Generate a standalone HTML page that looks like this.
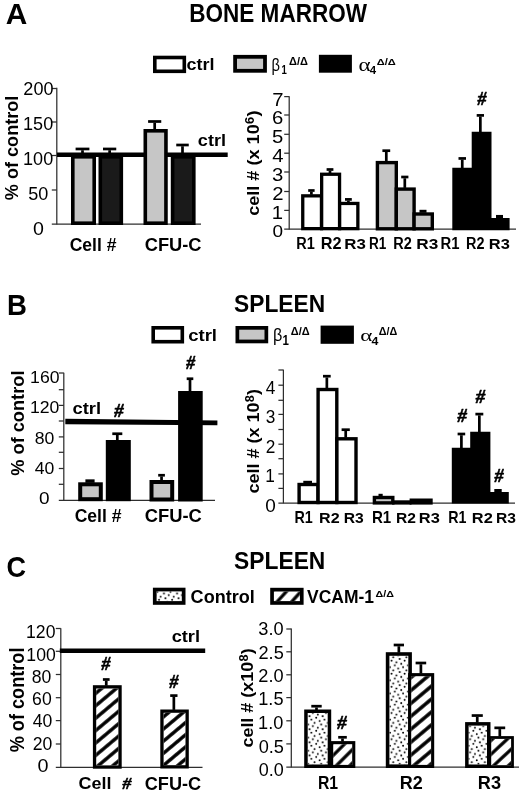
<!DOCTYPE html>
<html><head><meta charset="utf-8"><title>Figure</title>
<style>html,body{margin:0;padding:0;background:#fff;width:520px;height:794px;overflow:hidden}svg{display:block;filter:blur(0.35px)}</style>
</head><body>
<svg width="520" height="794" viewBox="0 0 520 794">
<defs><pattern id="dots" patternUnits="userSpaceOnUse" x="307.60" y="714.20" width="13.10" height="13.10"><circle cx="2.00" cy="2.00" r="0.95" fill="#000"/><circle cx="3.80" cy="5.40" r="0.95" fill="#000"/><circle cx="8.60" cy="3.60" r="0.95" fill="#000"/><circle cx="7.00" cy="8.70" r="0.95" fill="#000"/><circle cx="12.00" cy="6.70" r="0.95" fill="#000"/><circle cx="5.30" cy="12.00" r="0.95" fill="#000"/><circle cx="0.50" cy="10.30" r="0.95" fill="#000"/><circle cx="13.60" cy="10.30" r="0.95" fill="#000"/><circle cx="10.20" cy="0.40" r="0.95" fill="#000"/><circle cx="10.20" cy="13.50" r="0.95" fill="#000"/></pattern>
<pattern id="h1" patternUnits="userSpaceOnUse" width="60" height="10.800" patternTransform="translate(277.30,601.60) rotate(-48.00)"><rect x="0" y="0" width="60" height="1.600" fill="#000"/><rect x="0" y="9.200" width="60" height="1.600" fill="#000"/></pattern>
<pattern id="h2" patternUnits="userSpaceOnUse" width="60" height="9.500" patternTransform="translate(95.90,742.80) rotate(-40.00)"><rect x="0" y="0" width="60" height="1.700" fill="#000"/><rect x="0" y="7.800" width="60" height="1.700" fill="#000"/></pattern>
<pattern id="h3" patternUnits="userSpaceOnUse" width="60" height="9.300" patternTransform="translate(163.40,741.20) rotate(-40.00)"><rect x="0" y="0" width="60" height="1.700" fill="#000"/><rect x="0" y="7.600" width="60" height="1.700" fill="#000"/></pattern>
<pattern id="h4" patternUnits="userSpaceOnUse" width="60" height="9.500" patternTransform="translate(333.10,755.50) rotate(-45.00)"><rect x="0" y="0" width="60" height="1.600" fill="#000"/><rect x="0" y="7.900" width="60" height="1.600" fill="#000"/></pattern>
<pattern id="h5" patternUnits="userSpaceOnUse" width="60" height="9.900" patternTransform="translate(411.70,741.50) rotate(-40.00)"><rect x="0" y="0" width="60" height="1.750" fill="#000"/><rect x="0" y="8.150" width="60" height="1.750" fill="#000"/></pattern>
<pattern id="h6" patternUnits="userSpaceOnUse" width="60" height="10.100" patternTransform="translate(491.00,754.30) rotate(-43.00)"><rect x="0" y="0" width="60" height="1.600" fill="#000"/><rect x="0" y="8.500" width="60" height="1.600" fill="#000"/></pattern></defs>
<rect width="520" height="794" fill="#fff"/>
<rect x="153.00" y="55.70" width="33.10" height="17.40" fill="#000"/>
<rect x="156.60" y="59.30" width="25.90" height="10.20" fill="#fff"/>
<rect x="233.20" y="54.90" width="33.70" height="17.80" fill="#000"/>
<rect x="237.00" y="58.70" width="26.10" height="10.20" fill="#c6c6c6"/>
<rect x="318.90" y="54.80" width="33.00" height="17.90" fill="#000"/>
<line x1="56.80" y1="87.70" x2="56.80" y2="224.50" stroke="#2e2e2e" stroke-width="1.25"/>
<line x1="51.80" y1="88.50" x2="56.80" y2="88.50" stroke="#2e2e2e" stroke-width="1.25"/>
<line x1="51.80" y1="122.00" x2="56.80" y2="122.00" stroke="#2e2e2e" stroke-width="1.25"/>
<line x1="51.80" y1="155.50" x2="56.80" y2="155.50" stroke="#2e2e2e" stroke-width="1.25"/>
<line x1="51.80" y1="190.00" x2="56.80" y2="190.00" stroke="#2e2e2e" stroke-width="1.25"/>
<line x1="51.80" y1="224.20" x2="201.00" y2="224.20" stroke="#2e2e2e" stroke-width="1.25"/>
<rect x="57.00" y="152.50" width="170.70" height="4.50" fill="#000"/>
<rect x="71.00" y="155.00" width="25.00" height="70.00" fill="#000"/>
<rect x="74.60" y="158.60" width="17.80" height="62.80" fill="#c6c6c6"/>
<rect x="98.50" y="155.00" width="24.60" height="70.00" fill="#000"/>
<rect x="102.10" y="158.60" width="17.40" height="62.80" fill="#1a1a1a"/>
<rect x="143.50" y="129.00" width="24.25" height="96.00" fill="#000"/>
<rect x="147.10" y="132.60" width="17.05" height="88.80" fill="#c6c6c6"/>
<rect x="170.80" y="155.00" width="24.80" height="70.00" fill="#000"/>
<rect x="174.40" y="158.60" width="17.60" height="62.80" fill="#1a1a1a"/>
<rect x="75.60" y="147.62" width="13.80" height="2.70" fill="#000"/>
<rect x="81.15" y="150.22" width="2.70" height="5.28" fill="#000"/>
<rect x="103.00" y="147.62" width="13.25" height="2.70" fill="#000"/>
<rect x="108.28" y="150.22" width="2.70" height="5.28" fill="#000"/>
<rect x="148.10" y="120.15" width="13.15" height="2.70" fill="#000"/>
<rect x="153.33" y="122.75" width="2.70" height="6.75" fill="#000"/>
<rect x="176.25" y="143.65" width="12.50" height="2.70" fill="#000"/>
<rect x="181.15" y="146.25" width="2.70" height="9.25" fill="#000"/>
<line x1="289.20" y1="96.20" x2="289.20" y2="229.50" stroke="#2e2e2e" stroke-width="1.25"/>
<line x1="284.20" y1="96.60" x2="289.20" y2="96.60" stroke="#2e2e2e" stroke-width="1.25"/>
<line x1="284.20" y1="115.00" x2="289.20" y2="115.00" stroke="#2e2e2e" stroke-width="1.25"/>
<line x1="284.20" y1="134.30" x2="289.20" y2="134.30" stroke="#2e2e2e" stroke-width="1.25"/>
<line x1="284.20" y1="153.20" x2="289.20" y2="153.20" stroke="#2e2e2e" stroke-width="1.25"/>
<line x1="284.20" y1="172.00" x2="289.20" y2="172.00" stroke="#2e2e2e" stroke-width="1.25"/>
<line x1="284.20" y1="191.50" x2="289.20" y2="191.50" stroke="#2e2e2e" stroke-width="1.25"/>
<line x1="284.20" y1="210.40" x2="289.20" y2="210.40" stroke="#2e2e2e" stroke-width="1.25"/>
<line x1="284.20" y1="229.20" x2="516.00" y2="229.20" stroke="#2e2e2e" stroke-width="1.25"/>
<rect x="301.10" y="194.20" width="22.00" height="36.10" fill="#000"/>
<rect x="304.40" y="197.50" width="15.40" height="29.50" fill="#fff"/>
<rect x="320.00" y="172.60" width="21.20" height="57.70" fill="#000"/>
<rect x="323.30" y="175.90" width="14.60" height="51.10" fill="#fff"/>
<rect x="338.00" y="201.80" width="21.50" height="28.50" fill="#000"/>
<rect x="341.30" y="205.10" width="14.90" height="21.90" fill="#fff"/>
<rect x="375.70" y="160.90" width="22.30" height="69.60" fill="#000"/>
<rect x="379.10" y="164.30" width="15.50" height="62.80" fill="#c6c6c6"/>
<rect x="394.60" y="187.40" width="21.20" height="43.10" fill="#000"/>
<rect x="398.00" y="190.80" width="14.40" height="36.30" fill="#c6c6c6"/>
<rect x="412.40" y="212.30" width="21.60" height="18.20" fill="#000"/>
<rect x="415.80" y="215.70" width="14.80" height="11.40" fill="#c6c6c6"/>
<polygon points="452.30,230.30 452.30,167.80 471.70,167.80 471.70,131.70 491.50,131.70 491.50,218.00 509.60,218.00 509.60,230.30" fill="#000"/>
<rect x="308.20" y="189.15" width="6.40" height="2.70" fill="#000"/>
<rect x="310.05" y="191.75" width="2.70" height="2.95" fill="#000"/>
<rect x="326.60" y="168.15" width="6.80" height="2.70" fill="#000"/>
<rect x="328.65" y="170.75" width="2.70" height="2.35" fill="#000"/>
<rect x="345.00" y="198.05" width="6.80" height="2.70" fill="#000"/>
<rect x="347.05" y="200.65" width="2.70" height="1.65" fill="#000"/>
<rect x="382.40" y="149.35" width="7.80" height="2.70" fill="#000"/>
<rect x="384.95" y="151.95" width="2.70" height="9.45" fill="#000"/>
<rect x="401.20" y="175.65" width="7.20" height="2.70" fill="#000"/>
<rect x="403.45" y="178.25" width="2.70" height="9.65" fill="#000"/>
<rect x="419.50" y="209.80" width="7.00" height="3.00" fill="#000"/>
<rect x="458.50" y="157.10" width="7.50" height="2.70" fill="#000"/>
<rect x="460.90" y="159.70" width="2.70" height="8.60" fill="#000"/>
<rect x="476.70" y="114.05" width="7.30" height="2.70" fill="#000"/>
<rect x="479.00" y="116.65" width="2.70" height="15.55" fill="#000"/>
<rect x="496.00" y="214.95" width="7.00" height="3.55" fill="#000"/>
<rect x="151.40" y="326.00" width="32.70" height="17.50" fill="#000"/>
<rect x="155.00" y="329.60" width="25.50" height="10.30" fill="#fff"/>
<rect x="235.50" y="326.00" width="32.70" height="17.30" fill="#000"/>
<rect x="239.20" y="329.70" width="25.30" height="9.90" fill="#c6c6c6"/>
<rect x="320.60" y="325.60" width="33.30" height="18.20" fill="#000"/>
<line x1="63.80" y1="372.70" x2="63.80" y2="500.60" stroke="#2e2e2e" stroke-width="1.25"/>
<line x1="58.80" y1="373.00" x2="63.80" y2="373.00" stroke="#2e2e2e" stroke-width="1.25"/>
<line x1="58.80" y1="389.70" x2="63.80" y2="389.70" stroke="#2e2e2e" stroke-width="1.25"/>
<line x1="58.80" y1="405.40" x2="63.80" y2="405.40" stroke="#2e2e2e" stroke-width="1.25"/>
<line x1="58.80" y1="421.00" x2="63.80" y2="421.00" stroke="#2e2e2e" stroke-width="1.25"/>
<line x1="58.80" y1="436.90" x2="63.80" y2="436.90" stroke="#2e2e2e" stroke-width="1.25"/>
<line x1="58.80" y1="452.30" x2="63.80" y2="452.30" stroke="#2e2e2e" stroke-width="1.25"/>
<line x1="58.80" y1="468.50" x2="63.80" y2="468.50" stroke="#2e2e2e" stroke-width="1.25"/>
<line x1="58.80" y1="484.30" x2="63.80" y2="484.30" stroke="#2e2e2e" stroke-width="1.25"/>
<line x1="58.80" y1="500.30" x2="215.00" y2="500.30" stroke="#2e2e2e" stroke-width="1.25"/>
<rect x="78.20" y="482.30" width="24.60" height="18.90" fill="#000"/>
<rect x="82.20" y="486.30" width="16.60" height="10.90" fill="#c6c6c6"/>
<rect x="105.80" y="440.00" width="25.00" height="61.20" fill="#000"/>
<rect x="149.50" y="480.00" width="24.70" height="21.50" fill="#000"/>
<rect x="153.50" y="484.00" width="16.70" height="13.50" fill="#c6c6c6"/>
<rect x="178.10" y="391.00" width="24.60" height="110.50" fill="#000"/>
<rect x="85.40" y="479.35" width="9.20" height="3.45" fill="#000"/>
<rect x="112.30" y="432.40" width="10.00" height="2.70" fill="#000"/>
<rect x="115.95" y="435.00" width="2.70" height="5.50" fill="#000"/>
<rect x="158.20" y="473.90" width="6.70" height="2.70" fill="#000"/>
<rect x="160.20" y="476.50" width="2.70" height="4.00" fill="#000"/>
<rect x="186.70" y="377.40" width="6.60" height="2.70" fill="#000"/>
<rect x="188.65" y="380.00" width="2.70" height="11.50" fill="#000"/>
<polygon points="65.3,418.8 217.4,420.6 217.4,425.3 65.3,424.3" fill="#000"/>
<line x1="283.40" y1="369.70" x2="283.40" y2="503.30" stroke="#2e2e2e" stroke-width="1.25"/>
<line x1="278.40" y1="370.00" x2="283.40" y2="370.00" stroke="#2e2e2e" stroke-width="1.25"/>
<line x1="278.40" y1="385.20" x2="283.40" y2="385.20" stroke="#2e2e2e" stroke-width="1.25"/>
<line x1="278.40" y1="400.30" x2="283.40" y2="400.30" stroke="#2e2e2e" stroke-width="1.25"/>
<line x1="278.40" y1="414.40" x2="283.40" y2="414.40" stroke="#2e2e2e" stroke-width="1.25"/>
<line x1="278.40" y1="429.50" x2="283.40" y2="429.50" stroke="#2e2e2e" stroke-width="1.25"/>
<line x1="278.40" y1="444.20" x2="283.40" y2="444.20" stroke="#2e2e2e" stroke-width="1.25"/>
<line x1="278.40" y1="458.70" x2="283.40" y2="458.70" stroke="#2e2e2e" stroke-width="1.25"/>
<line x1="278.40" y1="473.90" x2="283.40" y2="473.90" stroke="#2e2e2e" stroke-width="1.25"/>
<line x1="278.40" y1="488.40" x2="283.40" y2="488.40" stroke="#2e2e2e" stroke-width="1.25"/>
<line x1="278.40" y1="503.00" x2="515.00" y2="503.00" stroke="#2e2e2e" stroke-width="1.25"/>
<rect x="297.40" y="482.80" width="22.30" height="21.40" fill="#000"/>
<rect x="300.80" y="486.20" width="15.50" height="14.60" fill="#fff"/>
<rect x="316.40" y="387.80" width="22.10" height="116.40" fill="#000"/>
<rect x="319.80" y="391.20" width="15.30" height="109.60" fill="#fff"/>
<rect x="335.20" y="437.10" width="22.50" height="67.10" fill="#000"/>
<rect x="338.60" y="440.50" width="15.70" height="60.30" fill="#fff"/>
<rect x="372.70" y="495.80" width="21.80" height="8.80" fill="#000"/>
<rect x="376.10" y="499.20" width="15.00" height="2.00" fill="#c6c6c6"/>
<rect x="392.00" y="500.30" width="19.50" height="4.30" fill="#000"/>
<rect x="395.40" y="503.70" width="12.70" height="-2.50" fill="#c6c6c6"/>
<rect x="409.60" y="498.50" width="23.10" height="6.10" fill="#000"/>
<rect x="413.00" y="501.90" width="16.30" height="-0.70" fill="#c6c6c6"/>
<polygon points="451.80,503.60 451.80,447.70 470.20,447.70 470.20,431.80 490.40,431.80 490.40,492.10 508.80,492.10 508.80,503.60" fill="#000"/>
<rect x="303.30" y="480.80" width="8.70" height="2.50" fill="#000"/>
<rect x="323.00" y="374.85" width="7.70" height="2.70" fill="#000"/>
<rect x="325.50" y="377.45" width="2.70" height="10.85" fill="#000"/>
<rect x="341.60" y="428.35" width="8.20" height="2.70" fill="#000"/>
<rect x="344.35" y="430.95" width="2.70" height="6.65" fill="#000"/>
<rect x="378.50" y="493.80" width="4.20" height="2.50" fill="#000"/>
<rect x="457.60" y="432.65" width="7.60" height="2.70" fill="#000"/>
<rect x="460.05" y="435.25" width="2.70" height="12.95" fill="#000"/>
<rect x="475.40" y="412.75" width="7.90" height="2.70" fill="#000"/>
<rect x="478.00" y="415.35" width="2.70" height="16.95" fill="#000"/>
<rect x="494.30" y="489.00" width="7.40" height="3.60" fill="#000"/>
<rect x="152.90" y="587.70" width="32.60" height="17.10" fill="#000"/>
<rect x="156.60" y="591.40" width="25.20" height="9.70" fill="#fff"/>
<rect x="156.60" y="591.40" width="25.20" height="9.70" fill="url(#dots)"/>
<rect x="270.20" y="587.80" width="33.40" height="17.00" fill="#000"/>
<rect x="273.90" y="591.50" width="26.00" height="9.60" fill="#fff"/>
<rect x="273.90" y="591.50" width="26.00" height="9.60" fill="url(#h1)"/>
<line x1="60.80" y1="628.20" x2="60.80" y2="767.60" stroke="#2e2e2e" stroke-width="1.25"/>
<line x1="55.80" y1="628.50" x2="60.80" y2="628.50" stroke="#2e2e2e" stroke-width="1.25"/>
<line x1="55.80" y1="651.30" x2="60.80" y2="651.30" stroke="#2e2e2e" stroke-width="1.25"/>
<line x1="55.80" y1="674.50" x2="60.80" y2="674.50" stroke="#2e2e2e" stroke-width="1.25"/>
<line x1="55.80" y1="697.70" x2="60.80" y2="697.70" stroke="#2e2e2e" stroke-width="1.25"/>
<line x1="55.80" y1="720.60" x2="60.80" y2="720.60" stroke="#2e2e2e" stroke-width="1.25"/>
<line x1="55.80" y1="744.00" x2="60.80" y2="744.00" stroke="#2e2e2e" stroke-width="1.25"/>
<line x1="55.80" y1="767.30" x2="202.50" y2="767.30" stroke="#2e2e2e" stroke-width="1.25"/>
<rect x="59.80" y="648.50" width="145.40" height="4.50" fill="#000"/>
<rect x="92.90" y="685.20" width="28.80" height="83.50" fill="#000"/>
<rect x="96.20" y="688.50" width="22.20" height="76.90" fill="#fff"/>
<rect x="96.20" y="688.50" width="22.20" height="76.90" fill="url(#h2)"/>
<rect x="160.30" y="709.50" width="28.50" height="59.00" fill="#000"/>
<rect x="163.60" y="712.80" width="21.90" height="52.40" fill="#fff"/>
<rect x="163.60" y="712.80" width="21.90" height="52.40" fill="url(#h3)"/>
<rect x="102.90" y="678.15" width="6.70" height="2.70" fill="#000"/>
<rect x="104.90" y="680.75" width="2.70" height="4.95" fill="#000"/>
<rect x="170.20" y="694.25" width="7.30" height="2.70" fill="#000"/>
<rect x="172.50" y="696.85" width="2.70" height="13.05" fill="#000"/>
<line x1="291.30" y1="628.40" x2="291.30" y2="767.50" stroke="#2e2e2e" stroke-width="1.25"/>
<line x1="286.30" y1="629.00" x2="291.30" y2="629.00" stroke="#2e2e2e" stroke-width="1.25"/>
<line x1="286.30" y1="651.80" x2="291.30" y2="651.80" stroke="#2e2e2e" stroke-width="1.25"/>
<line x1="286.30" y1="674.80" x2="291.30" y2="674.80" stroke="#2e2e2e" stroke-width="1.25"/>
<line x1="286.30" y1="697.60" x2="291.30" y2="697.60" stroke="#2e2e2e" stroke-width="1.25"/>
<line x1="286.30" y1="720.80" x2="291.30" y2="720.80" stroke="#2e2e2e" stroke-width="1.25"/>
<line x1="286.30" y1="743.90" x2="291.30" y2="743.90" stroke="#2e2e2e" stroke-width="1.25"/>
<line x1="286.30" y1="767.20" x2="519.00" y2="767.20" stroke="#2e2e2e" stroke-width="1.25"/>
<rect x="304.20" y="709.50" width="27.00" height="58.50" fill="#000"/>
<rect x="307.70" y="713.00" width="20.00" height="51.50" fill="#fff"/>
<rect x="307.70" y="713.00" width="20.00" height="51.50" fill="url(#dots)"/>
<rect x="330.10" y="741.10" width="25.20" height="26.90" fill="#000"/>
<rect x="333.20" y="744.20" width="19.00" height="20.70" fill="#fff"/>
<rect x="333.20" y="744.20" width="19.00" height="20.70" fill="url(#h4)"/>
<rect x="385.80" y="652.20" width="26.10" height="115.80" fill="#000"/>
<rect x="389.40" y="655.80" width="18.90" height="108.60" fill="#fff"/>
<rect x="389.40" y="655.80" width="18.90" height="108.60" fill="url(#dots)"/>
<rect x="408.10" y="673.10" width="26.10" height="94.90" fill="#000"/>
<rect x="411.20" y="676.20" width="19.90" height="88.70" fill="#fff"/>
<rect x="411.20" y="676.20" width="19.90" height="88.70" fill="url(#h5)"/>
<rect x="465.10" y="722.10" width="25.40" height="45.90" fill="#000"/>
<rect x="468.60" y="725.60" width="18.40" height="38.90" fill="#fff"/>
<rect x="468.60" y="725.60" width="18.40" height="38.90" fill="url(#dots)"/>
<rect x="488.40" y="736.10" width="25.50" height="31.90" fill="#000"/>
<rect x="491.20" y="738.90" width="19.90" height="26.30" fill="#fff"/>
<rect x="491.20" y="738.90" width="19.90" height="26.30" fill="url(#h6)"/>
<rect x="311.30" y="704.85" width="10.40" height="2.70" fill="#000"/>
<rect x="315.15" y="707.45" width="2.70" height="2.55" fill="#000"/>
<rect x="338.20" y="735.95" width="8.60" height="2.70" fill="#000"/>
<rect x="341.15" y="738.55" width="2.70" height="3.05" fill="#000"/>
<rect x="393.70" y="643.65" width="10.30" height="2.70" fill="#000"/>
<rect x="397.50" y="646.25" width="2.70" height="6.45" fill="#000"/>
<rect x="415.60" y="661.65" width="10.60" height="2.70" fill="#000"/>
<rect x="419.55" y="664.25" width="2.70" height="9.35" fill="#000"/>
<rect x="471.70" y="714.20" width="11.10" height="2.70" fill="#000"/>
<rect x="475.90" y="716.80" width="2.70" height="5.80" fill="#000"/>
<rect x="494.40" y="726.50" width="10.80" height="2.70" fill="#000"/>
<rect x="498.45" y="729.10" width="2.70" height="7.50" fill="#000"/>
<g transform="translate(5.871,24.200) scale(1.1056,1.0703)"><text x="0.000" y="0.000" font-family='"Liberation Sans", sans-serif' font-weight="bold" font-size="27.000">A</text></g>
<g transform="translate(189.263,22.015) scale(1.0244,1.1419)"><text x="0.000" y="0.000" font-family='"Liberation Sans", sans-serif' font-weight="bold" font-size="22.000">BONE MARROW</text></g>
<g transform="translate(186.607,70.261) scale(1.0571,0.9569)"><text x="0.000" y="0.000" font-family='"Liberation Sans", sans-serif' font-weight="bold" font-size="17.000">ctrl</text></g>
<g transform="translate(271.619,70.616) scale(0.8645,1.0813)"><text x="0.000" y="0.000" font-family='"Liberation Sans", sans-serif' font-weight="normal" font-size="17.000">β</text></g>
<g transform="translate(281.400,74.200) scale(0.8000,1.0545)"><text x="0.000" y="0.000" font-family='"Liberation Sans", sans-serif' font-weight="bold" font-size="12.000">1</text></g>
<g transform="translate(289.100,64.870) scale(1.0000,0.9212)"><text x="0.000" y="0.000" font-family='"Liberation Sans", sans-serif' font-weight="bold" font-size="11.000">Δ/Δ</text></g>
<g transform="translate(358.536,70.737) scale(1.2848,1.0514)"><text x="0.000" y="0.000" font-family='"Liberation Serif", serif' font-weight="normal" font-size="18.000">α</text></g>
<g transform="translate(369.862,74.400) scale(0.9538,0.9455)"><text x="0.000" y="0.000" font-family='"Liberation Sans", sans-serif' font-weight="bold" font-size="12.000">4</text></g>
<g transform="translate(376.694,65.115) scale(1.0111,0.7394)"><text x="0.000" y="0.000" font-family='"Liberation Sans", sans-serif' font-weight="bold" font-size="11.000">Δ/Δ</text></g>
<g transform="translate(18.484,200.233) rotate(-90) scale(1.0653,1.0627)"><text x="0.000" y="0.000" font-family='"Liberation Sans", sans-serif' font-weight="bold" font-size="17.000">% of control</text></g>
<g transform="translate(23.353,95.226) scale(1.1287,1.0979)"><text x="0.000" y="0.000" font-family='"Liberation Sans", sans-serif' font-weight="normal" font-size="16.000">200</text></g>
<g transform="translate(23.071,130.088) scale(1.1287,1.0979)"><text x="0.000" y="0.000" font-family='"Liberation Sans", sans-serif' font-weight="normal" font-size="16.000">150</text></g>
<g transform="translate(23.071,164.951) scale(1.1287,1.0979)"><text x="0.000" y="0.000" font-family='"Liberation Sans", sans-serif' font-weight="normal" font-size="16.000">100</text></g>
<g transform="translate(28.292,199.813) scale(1.1287,1.0979)"><text x="0.000" y="0.000" font-family='"Liberation Sans", sans-serif' font-weight="normal" font-size="16.000">50</text></g>
<g transform="translate(33.087,234.628) scale(1.2258,1.0894)"><text x="0.000" y="0.000" font-family='"Liberation Sans", sans-serif' font-weight="normal" font-size="16.000">0</text></g>
<g transform="translate(197.834,146.031) scale(1.1312,1.0750)"><text x="0.000" y="0.000" font-family='"Liberation Sans", sans-serif' font-weight="bold" font-size="16.000">ctrl</text></g>
<g transform="translate(69.677,250.719) scale(1.0970,1.1250)"><text x="0.000" y="0.000" font-family='"Liberation Sans", sans-serif' font-weight="bold" font-size="16.000">Cell #</text></g>
<g transform="translate(144.743,250.715) scale(1.1423,1.1404)"><text x="0.000" y="0.000" font-family='"Liberation Sans", sans-serif' font-weight="bold" font-size="16.000">CFU-C</text></g>
<g transform="translate(272.148,105.600) scale(1.2690,1.1289)"><text x="0.000" y="0.000" font-family='"Liberation Sans", sans-serif' font-weight="normal" font-size="16.000">7</text></g>
<g transform="translate(271.990,124.457) scale(1.2690,1.1289)"><text x="0.000" y="0.000" font-family='"Liberation Sans", sans-serif' font-weight="normal" font-size="16.000">6</text></g>
<g transform="translate(271.990,143.173) scale(1.2690,1.1289)"><text x="0.000" y="0.000" font-family='"Liberation Sans", sans-serif' font-weight="normal" font-size="16.000">5</text></g>
<g transform="translate(272.148,162.171) scale(1.2690,1.1289)"><text x="0.000" y="0.000" font-family='"Liberation Sans", sans-serif' font-weight="normal" font-size="16.000">4</text></g>
<g transform="translate(271.990,181.029) scale(1.2690,1.1289)"><text x="0.000" y="0.000" font-family='"Liberation Sans", sans-serif' font-weight="normal" font-size="16.000">3</text></g>
<g transform="translate(272.148,200.027) scale(1.2690,1.1289)"><text x="0.000" y="0.000" font-family='"Liberation Sans", sans-serif' font-weight="normal" font-size="16.000">2</text></g>
<g transform="translate(271.672,218.743) scale(1.2690,1.1289)"><text x="0.000" y="0.000" font-family='"Liberation Sans", sans-serif' font-weight="normal" font-size="16.000">1</text></g>
<g transform="translate(272.506,237.330) scale(1.1871,1.0809)"><text x="0.000" y="0.000" font-family='"Liberation Sans", sans-serif' font-weight="normal" font-size="16.000">0</text></g>
<g transform="translate(259.006,215.866) rotate(-90) scale(1.1324,1.0750)"><text x="0.000" y="0.000" font-family='"Liberation Sans", sans-serif' font-weight="bold" font-size="16.000">cell # (x 10</text><text x="81.200" y="-5.000" font-family='"Liberation Sans", sans-serif' font-weight="bold" font-size="11.300">6</text><text x="87.700" y="0.000" font-family='"Liberation Sans", sans-serif' font-weight="bold" font-size="16.000">)</text></g>
<g transform="translate(477.446,105.045) scale(0.9846,1.0204)"><text x="0.000" y="0.000" font-family='"Liberation Serif", serif' font-weight="bold" font-style="italic" stroke="#000" stroke-width="0.550" stroke-linejoin="round" font-size="18.000">#</text></g>
<g transform="translate(296.264,248.900) scale(1.0364,1.1684)"><text x="0.000" y="0.000" font-family='"Liberation Sans", sans-serif' font-weight="bold" font-size="14.000">R1</text></g>
<g transform="translate(320.836,248.900) scale(1.1636,1.1385)"><text x="0.000" y="0.000" font-family='"Liberation Sans", sans-serif' font-weight="bold" font-size="14.000">R2</text></g>
<g transform="translate(344.294,248.623) scale(1.2061,1.1100)"><text x="0.000" y="0.000" font-family='"Liberation Sans", sans-serif' font-weight="bold" font-size="14.000">R3</text></g>
<g transform="translate(369.030,248.900) scale(0.9697,1.1684)"><text x="0.000" y="0.000" font-family='"Liberation Sans", sans-serif' font-weight="bold" font-size="14.000">R1</text></g>
<g transform="translate(393.364,248.900) scale(1.0364,1.1385)"><text x="0.000" y="0.000" font-family='"Liberation Sans", sans-serif' font-weight="bold" font-size="14.000">R2</text></g>
<g transform="translate(416.270,248.623) scale(1.2303,1.1100)"><text x="0.000" y="0.000" font-family='"Liberation Sans", sans-serif' font-weight="bold" font-size="14.000">R3</text></g>
<g transform="translate(440.439,248.900) scale(1.0606,1.1684)"><text x="0.000" y="0.000" font-family='"Liberation Sans", sans-serif' font-weight="bold" font-size="14.000">R1</text></g>
<g transform="translate(465.970,248.900) scale(1.0303,1.1385)"><text x="0.000" y="0.000" font-family='"Liberation Sans", sans-serif' font-weight="bold" font-size="14.000">R2</text></g>
<g transform="translate(488.824,248.623) scale(1.1758,1.1100)"><text x="0.000" y="0.000" font-family='"Liberation Sans", sans-serif' font-weight="bold" font-size="14.000">R3</text></g>
<g transform="translate(6.963,314.600) scale(1.0212,1.0757)"><text x="0.000" y="0.000" font-family='"Liberation Sans", sans-serif' font-weight="bold" font-size="27.000">B</text></g>
<g transform="translate(234.124,312.226) scale(1.0344,1.0968)"><text x="0.000" y="0.000" font-family='"Liberation Sans", sans-serif' font-weight="bold" font-size="22.000">SPLEEN</text></g>
<g transform="translate(188.183,340.755) scale(1.0898,0.9804)"><text x="0.000" y="0.000" font-family='"Liberation Sans", sans-serif' font-weight="bold" font-size="17.000">ctrl</text></g>
<g transform="translate(272.906,340.950) scale(0.9548,1.1000)"><text x="0.000" y="0.000" font-family='"Liberation Sans", sans-serif' font-weight="normal" font-size="17.000">β</text></g>
<g transform="translate(282.483,344.700) scale(0.9565,1.1636)"><text x="0.000" y="0.000" font-family='"Liberation Sans", sans-serif' font-weight="bold" font-size="12.000">1</text></g>
<g transform="translate(290.800,335.245) scale(1.0000,1.0182)"><text x="0.000" y="0.000" font-family='"Liberation Sans", sans-serif' font-weight="bold" font-size="11.000">Δ/Δ</text></g>
<g transform="translate(360.236,340.774) scale(1.2848,0.9029)"><text x="0.000" y="0.000" font-family='"Liberation Serif", serif' font-weight="normal" font-size="18.000">α</text></g>
<g transform="translate(371.542,344.600) scale(1.0308,0.9212)"><text x="0.000" y="0.000" font-family='"Liberation Sans", sans-serif' font-weight="bold" font-size="12.000">4</text></g>
<g transform="translate(378.808,335.445) scale(0.9833,1.0182)"><text x="0.000" y="0.000" font-family='"Liberation Sans", sans-serif' font-weight="bold" font-size="11.000">Δ/Δ</text></g>
<g transform="translate(23.918,475.736) rotate(-90) scale(1.0715,1.1294)"><text x="0.000" y="0.000" font-family='"Liberation Sans", sans-serif' font-weight="bold" font-size="17.000">% of control</text></g>
<g transform="translate(30.121,383.230) scale(1.1030,1.0809)"><text x="0.000" y="0.000" font-family='"Liberation Sans", sans-serif' font-weight="normal" font-size="16.000">160</text></g>
<g transform="translate(29.884,413.480) scale(1.1030,1.0809)"><text x="0.000" y="0.000" font-family='"Liberation Sans", sans-serif' font-weight="normal" font-size="16.000">120</text></g>
<g transform="translate(34.748,443.730) scale(1.1030,1.0809)"><text x="0.000" y="0.000" font-family='"Liberation Sans", sans-serif' font-weight="normal" font-size="16.000">80</text></g>
<g transform="translate(34.786,473.980) scale(1.1030,1.0809)"><text x="0.000" y="0.000" font-family='"Liberation Sans", sans-serif' font-weight="normal" font-size="16.000">40</text></g>
<g transform="translate(39.006,504.230) scale(1.1871,1.0809)"><text x="0.000" y="0.000" font-family='"Liberation Sans", sans-serif' font-weight="normal" font-size="16.000">0</text></g>
<g transform="translate(72.426,413.533) scale(1.1484,1.0667)"><text x="0.000" y="0.000" font-family='"Liberation Sans", sans-serif' font-weight="bold" font-size="16.000">ctrl</text></g>
<g transform="translate(114.159,416.737) scale(1.0359,1.0531)"><text x="0.000" y="0.000" font-family='"Liberation Serif", serif' font-weight="bold" font-style="italic" stroke="#000" stroke-width="0.550" stroke-linejoin="round" font-size="18.000">#</text></g>
<g transform="translate(186.344,368.529) scale(0.9744,1.0857)"><text x="0.000" y="0.000" font-family='"Liberation Serif", serif' font-weight="bold" font-style="italic" stroke="#000" stroke-width="0.550" stroke-linejoin="round" font-size="18.000">#</text></g>
<g transform="translate(74.677,522.223) scale(1.0970,1.1083)"><text x="0.000" y="0.000" font-family='"Liberation Sans", sans-serif' font-weight="bold" font-size="16.000">Cell #</text></g>
<g transform="translate(144.739,522.218) scale(1.1474,1.1277)"><text x="0.000" y="0.000" font-family='"Liberation Sans", sans-serif' font-weight="bold" font-size="16.000">CFU-C</text></g>
<g transform="translate(265.830,393.800) scale(1.0788,1.1111)"><text x="0.000" y="0.000" font-family='"Liberation Sans", sans-serif' font-weight="normal" font-size="16.000">4</text></g>
<g transform="translate(265.658,423.288) scale(1.0788,1.1111)"><text x="0.000" y="0.000" font-family='"Liberation Sans", sans-serif' font-weight="normal" font-size="16.000">3</text></g>
<g transform="translate(265.755,452.914) scale(1.0788,1.1111)"><text x="0.000" y="0.000" font-family='"Liberation Sans", sans-serif' font-weight="normal" font-size="16.000">2</text></g>
<g transform="translate(265.313,482.262) scale(1.0788,1.1111)"><text x="0.000" y="0.000" font-family='"Liberation Sans", sans-serif' font-weight="normal" font-size="16.000">1</text></g>
<g transform="translate(265.206,511.723) scale(1.1871,1.1064)"><text x="0.000" y="0.000" font-family='"Liberation Sans", sans-serif' font-weight="normal" font-size="16.000">0</text></g>
<g transform="translate(259.006,493.562) rotate(-90) scale(1.1248,1.0750)"><text x="0.000" y="0.000" font-family='"Liberation Sans", sans-serif' font-weight="bold" font-size="16.000">cell # (x 10</text><text x="81.200" y="-5.000" font-family='"Liberation Sans", sans-serif' font-weight="bold" font-size="11.300">8</text><text x="87.700" y="0.000" font-family='"Liberation Sans", sans-serif' font-weight="bold" font-size="16.000">)</text></g>
<g transform="translate(457.459,421.931) scale(1.0359,1.0776)"><text x="0.000" y="0.000" font-family='"Liberation Serif", serif' font-weight="bold" font-style="italic" stroke="#000" stroke-width="0.550" stroke-linejoin="round" font-size="18.000">#</text></g>
<g transform="translate(475.659,402.624) scale(1.0359,1.1020)"><text x="0.000" y="0.000" font-family='"Liberation Serif", serif' font-weight="bold" font-style="italic" stroke="#000" stroke-width="0.550" stroke-linejoin="round" font-size="18.000">#</text></g>
<g transform="translate(494.451,481.635) scale(1.0051,1.0612)"><text x="0.000" y="0.000" font-family='"Liberation Serif", serif' font-weight="bold" font-style="italic" stroke="#000" stroke-width="0.550" stroke-linejoin="round" font-size="18.000">#</text></g>
<g transform="translate(294.476,523.200) scale(1.0242,1.1158)"><text x="0.000" y="0.000" font-family='"Liberation Sans", sans-serif' font-weight="bold" font-size="14.000">R1</text></g>
<g transform="translate(319.048,523.200) scale(1.1515,1.0872)"><text x="0.000" y="0.000" font-family='"Liberation Sans", sans-serif' font-weight="bold" font-size="14.000">R2</text></g>
<g transform="translate(343.679,522.935) scale(1.1212,1.0600)"><text x="0.000" y="0.000" font-family='"Liberation Sans", sans-serif' font-weight="bold" font-size="14.000">R3</text></g>
<g transform="translate(371.921,523.200) scale(1.0788,1.1158)"><text x="0.000" y="0.000" font-family='"Liberation Sans", sans-serif' font-weight="bold" font-size="14.000">R1</text></g>
<g transform="translate(395.885,523.200) scale(1.1152,1.0872)"><text x="0.000" y="0.000" font-family='"Liberation Sans", sans-serif' font-weight="bold" font-size="14.000">R2</text></g>
<g transform="translate(418.824,522.935) scale(1.1758,1.0600)"><text x="0.000" y="0.000" font-family='"Liberation Sans", sans-serif' font-weight="bold" font-size="14.000">R3</text></g>
<g transform="translate(448.182,523.200) scale(1.0182,1.1158)"><text x="0.000" y="0.000" font-family='"Liberation Sans", sans-serif' font-weight="bold" font-size="14.000">R1</text></g>
<g transform="translate(471.830,523.200) scale(1.1697,1.0872)"><text x="0.000" y="0.000" font-family='"Liberation Sans", sans-serif' font-weight="bold" font-size="14.000">R2</text></g>
<g transform="translate(495.885,522.935) scale(1.1152,1.0600)"><text x="0.000" y="0.000" font-family='"Liberation Sans", sans-serif' font-weight="bold" font-size="14.000">R3</text></g>
<g transform="translate(6.397,576.628) scale(1.0028,1.0895)"><text x="0.000" y="0.000" font-family='"Liberation Sans", sans-serif' font-weight="bold" font-size="27.000">C</text></g>
<g transform="translate(234.122,568.927) scale(1.0367,1.0903)"><text x="0.000" y="0.000" font-family='"Liberation Sans", sans-serif' font-weight="bold" font-size="22.000">SPLEEN</text></g>
<g transform="translate(190.603,602.935) scale(1.0632,1.0588)"><text x="0.000" y="0.000" font-family='"Liberation Sans", sans-serif' font-weight="bold" font-size="17.000">Control</text></g>
<g transform="translate(307.043,602.731) scale(1.0279,1.0776)"><text x="0.000" y="0.000" font-family='"Liberation Sans", sans-serif' font-weight="bold" font-size="17.000">VCAM-1</text></g>
<g transform="translate(375.514,596.782) scale(0.9722,0.8727)"><text x="0.000" y="0.000" font-family='"Liberation Sans", sans-serif' font-weight="bold" font-size="11.000">Δ/Δ</text></g>
<g transform="translate(24.212,752.334) rotate(-90) scale(1.0674,1.1529)"><text x="0.000" y="0.000" font-family='"Liberation Sans", sans-serif' font-weight="bold" font-size="17.000">% of control</text></g>
<g transform="translate(26.021,638.221) scale(1.1030,1.1149)"><text x="0.000" y="0.000" font-family='"Liberation Sans", sans-serif' font-weight="normal" font-size="16.000">120</text></g>
<g transform="translate(26.346,660.505) scale(1.1030,1.1149)"><text x="0.000" y="0.000" font-family='"Liberation Sans", sans-serif' font-weight="normal" font-size="16.000">100</text></g>
<g transform="translate(31.773,682.788) scale(1.1030,1.1149)"><text x="0.000" y="0.000" font-family='"Liberation Sans", sans-serif' font-weight="normal" font-size="16.000">80</text></g>
<g transform="translate(32.098,705.071) scale(1.1030,1.1149)"><text x="0.000" y="0.000" font-family='"Liberation Sans", sans-serif' font-weight="normal" font-size="16.000">60</text></g>
<g transform="translate(32.698,727.355) scale(1.1030,1.1149)"><text x="0.000" y="0.000" font-family='"Liberation Sans", sans-serif' font-weight="normal" font-size="16.000">40</text></g>
<g transform="translate(32.748,749.638) scale(1.1030,1.1149)"><text x="0.000" y="0.000" font-family='"Liberation Sans", sans-serif' font-weight="normal" font-size="16.000">20</text></g>
<g transform="translate(37.581,771.826) scale(1.2387,1.0979)"><text x="0.000" y="0.000" font-family='"Liberation Sans", sans-serif' font-weight="normal" font-size="16.000">0</text></g>
<g transform="translate(171.630,641.529) scale(1.1398,1.0833)"><text x="0.000" y="0.000" font-family='"Liberation Sans", sans-serif' font-weight="bold" font-size="16.000">ctrl</text></g>
<g transform="translate(101.446,670.037) scale(0.9846,1.0531)"><text x="0.000" y="0.000" font-family='"Liberation Serif", serif' font-weight="bold" font-style="italic" stroke="#000" stroke-width="0.550" stroke-linejoin="round" font-size="18.000">#</text></g>
<g transform="translate(169.446,688.037) scale(0.9846,1.0531)"><text x="0.000" y="0.000" font-family='"Liberation Serif", serif' font-weight="bold" font-style="italic" stroke="#000" stroke-width="0.550" stroke-linejoin="round" font-size="18.000">#</text></g>
<g transform="translate(78.559,789.484) scale(1.1218,1.0625)"><text x="0.000" y="0.000" font-family='"Liberation Sans", sans-serif' font-weight="bold" font-size="16.000">Cell</text></g>
<g transform="translate(122.497,789.257) scale(0.9897,0.9714)"><text x="0.000" y="0.000" font-family='"Liberation Serif", serif' font-weight="bold" font-style="italic" stroke="#000" stroke-width="0.550" stroke-linejoin="round" font-size="18.000">#</text></g>
<g transform="translate(144.749,789.821) scale(1.1340,1.1149)"><text x="0.000" y="0.000" font-family='"Liberation Sans", sans-serif' font-weight="bold" font-size="16.000">CFU-C</text></g>
<g transform="translate(258.346,635.121) scale(1.1381,1.1149)"><text x="0.000" y="0.000" font-family='"Liberation Sans", sans-serif' font-weight="normal" font-size="16.000">3.0</text></g>
<g transform="translate(258.489,658.613) scale(1.1381,1.1149)"><text x="0.000" y="0.000" font-family='"Liberation Sans", sans-serif' font-weight="normal" font-size="16.000">2.5</text></g>
<g transform="translate(258.346,682.105) scale(1.1381,1.1149)"><text x="0.000" y="0.000" font-family='"Liberation Sans", sans-serif' font-weight="normal" font-size="16.000">2.0</text></g>
<g transform="translate(258.204,705.457) scale(1.1381,1.1149)"><text x="0.000" y="0.000" font-family='"Liberation Sans", sans-serif' font-weight="normal" font-size="16.000">1.5</text></g>
<g transform="translate(258.062,729.088) scale(1.1381,1.1149)"><text x="0.000" y="0.000" font-family='"Liberation Sans", sans-serif' font-weight="normal" font-size="16.000">1.0</text></g>
<g transform="translate(258.631,752.580) scale(1.1381,1.1149)"><text x="0.000" y="0.000" font-family='"Liberation Sans", sans-serif' font-weight="normal" font-size="16.000">0.5</text></g>
<g transform="translate(258.638,776.215) scale(1.1247,1.1404)"><text x="0.000" y="0.000" font-family='"Liberation Sans", sans-serif' font-weight="normal" font-size="16.000">0.0</text></g>
<g transform="translate(253.347,747.560) rotate(-90) scale(1.1209,1.0625)"><text x="0.000" y="0.000" font-family='"Liberation Sans", sans-serif' font-weight="bold" font-size="16.000">cell # (x10</text><text x="76.800" y="-5.000" font-family='"Liberation Sans", sans-serif' font-weight="bold" font-size="11.300">8</text><text x="83.300" y="0.000" font-family='"Liberation Sans", sans-serif' font-weight="bold" font-size="16.000">)</text></g>
<g transform="translate(337.162,729.229) scale(1.0462,1.0857)"><text x="0.000" y="0.000" font-family='"Liberation Serif", serif' font-weight="bold" font-style="italic" stroke="#000" stroke-width="0.550" stroke-linejoin="round" font-size="18.000">#</text></g>
<g transform="translate(317.973,788.800) scale(1.1273,1.3053)"><text x="0.000" y="0.000" font-family='"Liberation Sans", sans-serif' font-weight="bold" font-size="14.000">R1</text></g>
<g transform="translate(399.815,788.800) scale(1.2848,1.3128)"><text x="0.000" y="0.000" font-family='"Liberation Sans", sans-serif' font-weight="bold" font-size="14.000">R2</text></g>
<g transform="translate(477.803,788.870) scale(1.2970,1.3200)"><text x="0.000" y="0.000" font-family='"Liberation Sans", sans-serif' font-weight="bold" font-size="14.000">R3</text></g>
</svg>
</body></html>
